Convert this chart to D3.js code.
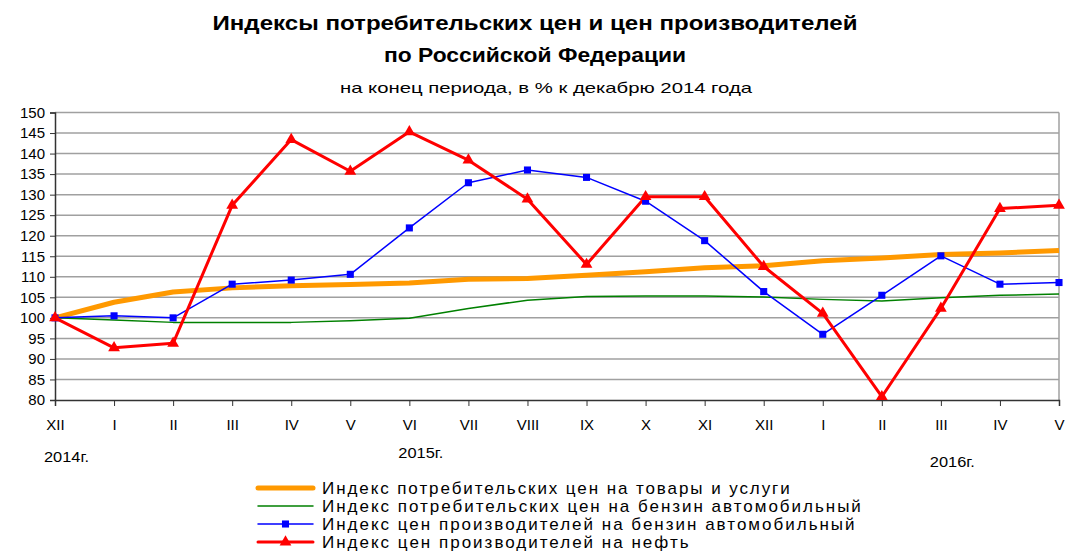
<!DOCTYPE html>
<html><head><meta charset="utf-8">
<script src="https://cdn.jsdelivr.net/npm/d3@7"></script>
<style>html,body{margin:0;padding:0;background:#fff;}svg{display:block;}</style>
</head><body>
<script>
const months = ["XII","I","II","III","IV","V","VI","VII","VIII","IX","X","XI","XII","I","II","III","IV","V"];
const cpiAll = [100,103.8,106.3,107.3,107.8,108.1,108.5,109.4,109.6,110.4,111.2,112.2,112.7,113.9,114.6,115.4,115.8,116.4];
const cpiGasoline = [100,99.5,98.9,98.9,98.9,99.3,99.9,102.3,104.3,105.2,105.3,105.3,105.1,104.5,104.1,104.9,105.5,105.8];
const ppiGasoline = [100,100.5,100.0,108.2,109.2,110.6,121.9,132.9,136.0,134.2,128.4,118.8,106.4,96.0,105.5,115.1,108.2,108.6];
const ppiOil = [100,92.7,93.8,127.4,143.4,135.7,145.3,138.4,128.9,113.0,129.5,129.5,112.5,101.1,80.8,102.3,126.6,127.4];
const yTicks = [80,85,90,95,100,105,110,115,120,125,130,135,140,145,150];
const yearLabels = [{label:"2014г.", idx:0, dy:62},{label:"2015г.", idx:6, dy:58},{label:"2016г.", idx:15, dy:67}];
const legendNames = ["Индекс потребительских цен на товары и услуги","Индекс потребительских цен на бензин автомобильный","Индекс цен производителей на бензин автомобильный","Индекс цен производителей на нефть"];

const W=1067,H=555;
const svg=d3.select("body").append("svg").attr("width",W).attr("height",H);
const font="'Liberation Sans', Arial, sans-serif";
const x=d3.scaleLinear().domain([0,months.length-1]).range([55,1059]);
const y=d3.scaleLinear().domain([80,150]).range([400,112.5]);

// titles
svg.append("text").attr("x",535).attr("y",30).attr("text-anchor","middle")
  .attr("font-family","'Liberation Sans Narrow', 'Liberation Sans', Arial, sans-serif").attr("font-weight","bold").attr("font-size",21)
  .attr("textLength",645).attr("lengthAdjust","spacingAndGlyphs")
  .text("Индексы потребительских цен и цен производителей");
svg.append("text").attr("x",535).attr("y",62).attr("text-anchor","middle")
  .attr("font-family","'Liberation Sans Narrow', 'Liberation Sans', Arial, sans-serif").attr("font-weight","bold").attr("font-size",21)
  .attr("textLength",302).attr("lengthAdjust","spacingAndGlyphs")
  .text("по Российской Федерации");
svg.append("text").attr("x",546).attr("y",93).attr("text-anchor","middle")
  .attr("font-family",font).attr("font-size",15)
  .attr("textLength",412).attr("lengthAdjust","spacingAndGlyphs")
  .text("на конец периода, в % к декабрю 2014 года");

// gridlines
svg.append("g").selectAll("line").data(yTicks.filter(v=>v>80)).join("line")
  .attr("x1",55).attr("x2",1059).attr("y1",d=>y(d)).attr("y2",d=>y(d))
  .attr("stroke","#a0a0a0").attr("stroke-width",1.5);
svg.append("line").attr("x1",1059).attr("x2",1059).attr("y1",y(150)).attr("y2",400).attr("stroke","#a0a0a0").attr("stroke-width",1.5);

// y axis
const yAxis=svg.append("g").attr("transform","translate(55,0)")
  .call(d3.axisLeft(y).tickValues(yTicks).tickSize(5).tickPadding(5).tickFormat(d3.format("d")));
yAxis.select(".domain").attr("stroke","#333").attr("stroke-width",1.5);
yAxis.selectAll(".tick line").attr("stroke","#333");
yAxis.selectAll("text").attr("font-family",font).attr("font-size",15).attr("fill","#000");

// x axis
const xAxis=svg.append("g").attr("transform","translate(0,400)")
  .call(d3.axisBottom(x).tickValues(d3.range(months.length)).tickSize(6).tickPadding(13).tickFormat(i=>months[i]));
xAxis.select(".domain").attr("stroke","#333").attr("stroke-width",1.5);
xAxis.selectAll(".tick line").attr("stroke","#333");
xAxis.selectAll("text").attr("font-family",font).attr("font-size",15).attr("fill","#000");

// year labels
svg.append("g").selectAll("text").data(yearLabels).join("text")
  .attr("x",d=>x(d.idx)-11).attr("y",d=>400+d.dy)
  .attr("font-family",font).attr("font-size",15)
  .attr("textLength",45).attr("lengthAdjust","spacingAndGlyphs").text(d=>d.label);

const line=d3.line().x((d,i)=>x(i)).y(d=>y(d));
const series=[
  {data:cpiAll,color:"#FF9900",w:5,marker:null},
  {data:cpiGasoline,color:"#008000",w:1.5,marker:null},
  {data:ppiGasoline,color:"#0000FF",w:1.5,marker:"square"},
  {data:ppiOil,color:"#FF0000",w:3,marker:"triangle"}
];
series.forEach(s=>{
  svg.append("path").datum(s.data).attr("d",line).attr("fill","none")
    .attr("stroke",s.color).attr("stroke-width",s.w).attr("stroke-linejoin","round");
});
series.forEach(s=>{
  if(!s.marker) return;
  const sym = s.marker==="square"? d3.symbol(d3.symbolSquare,50) : d3.symbol(d3.symbolTriangle,60);
  svg.append("g").selectAll("path").data(s.data).join("path")
    .attr("transform",(d,i)=>`translate(${x(i)},${y(d)})`).attr("d",sym).attr("fill",s.color);
});

// legend
const lg=svg.append("g");
legendNames.forEach((name,i)=>{
  const s=series[i]; const cy=488+i*18;
  lg.append("line").attr("x1",258).attr("x2",313).attr("y1",cy).attr("y2",cy)
    .attr("stroke",s.color).attr("stroke-width",s.w).attr("stroke-linecap","round");
  if(s.marker){
    const sym = s.marker==="square"? d3.symbol(d3.symbolSquare,50) : d3.symbol(d3.symbolTriangle,60);
    lg.append("path").attr("transform",`translate(285.5,${cy})`).attr("d",sym).attr("fill",s.color);
  }
  const t=lg.append("text").attr("x",322).attr("y",cy+6).attr("font-family",font).attr("font-size",17).text(name);
  const len=t.node().getComputedTextLength();
  t.attr("textLength",len*1.22).attr("lengthAdjust","spacing");
});
</script>
</body></html>
